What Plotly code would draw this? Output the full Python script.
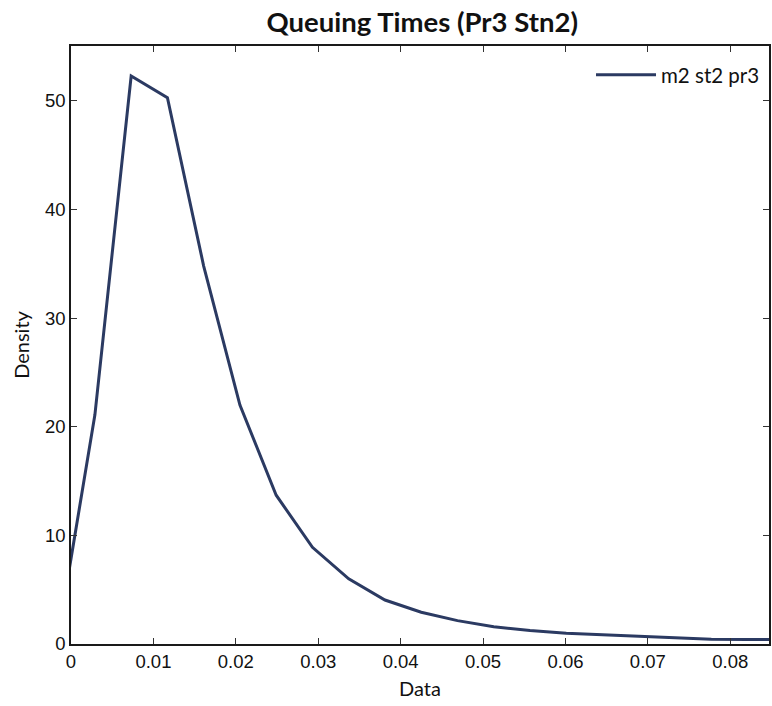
import plotly.graph_objects as go

x_vals = [-0.0015, 0.0029, 0.0073, 0.0117, 0.0161, 0.0205, 0.0249, 0.0293, 0.0337, 0.0381,
          0.0425, 0.0469, 0.0513, 0.0557, 0.0601, 0.0645, 0.0689, 0.0733, 0.0777, 0.0821, 0.0865]
density = [1.0, 21.1, 52.3, 50.3, 34.8, 22.0, 13.7, 8.9, 6.0, 4.05,
           2.92, 2.15, 1.58, 1.25, 1.0, 0.85, 0.7, 0.58, 0.43, 0.42, 0.40]
x_ticks = [0, 0.01, 0.02, 0.03, 0.04, 0.05, 0.06, 0.07, 0.08]
x_tick_labels = ["0", "0.01", "0.02", "0.03", "0.04", "0.05", "0.06", "0.07", "0.08"]
y_ticks = [0, 10, 20, 30, 40, 50]
y_tick_labels = ["0", "10", "20", "30", "40", "50"]

fig = go.Figure()
fig.add_trace(go.Scatter(x=x_vals, y=density, mode="lines", name="m2 st2 pr3",
                         line=dict(color="#2b3a62", width=3)))

axis_common = dict(showgrid=False, zeroline=False, showline=True, linecolor="#1a1a1a",
                   linewidth=1.5, mirror="ticks", ticks="inside", ticklen=6,
                   tickcolor="#333333", tickwidth=1,
                   tickfont=dict(family="Liberation Sans, Arial", size=18.5, color="#111111"))

fig.update_layout(
    width=772, height=706,
    margin=dict(l=71, r=1, t=46, b=62),
    paper_bgcolor="white", plot_bgcolor="white",
    title=dict(text="<b>Queuing Times (Pr3 Stn2)</b>", x=0.547, xanchor="center",
               y=0.969, yanchor="middle",
               font=dict(family="Lato, Open Sans", size=27.5, color="#111111")),
    xaxis=dict(range=[0, 0.0847], tickvals=x_ticks, ticktext=x_tick_labels,
               title=dict(text="Data", standoff=11,
                          font=dict(family="Lato, Open Sans", size=20, color="#111111")),
               **axis_common),
    yaxis=dict(range=[0, 55.06], tickvals=y_ticks, ticktext=y_tick_labels,
               title=dict(text="Density", standoff=10,
                          font=dict(family="Lato, Open Sans", size=20, color="#111111")),
               **axis_common),
    legend=dict(x=0.745, y=0.985, xanchor="left", yanchor="top", bgcolor="rgba(0,0,0,0)",
                borderwidth=0, itemwidth=60,
                font=dict(family="Lato, Open Sans", size=20.5, color="#111111")),
    showlegend=True,
)

fig.write_html("out.html", config={"displayModeBar": False},
               post_script="document.body.style.margin='0';document.body.style.overflow='hidden';")
